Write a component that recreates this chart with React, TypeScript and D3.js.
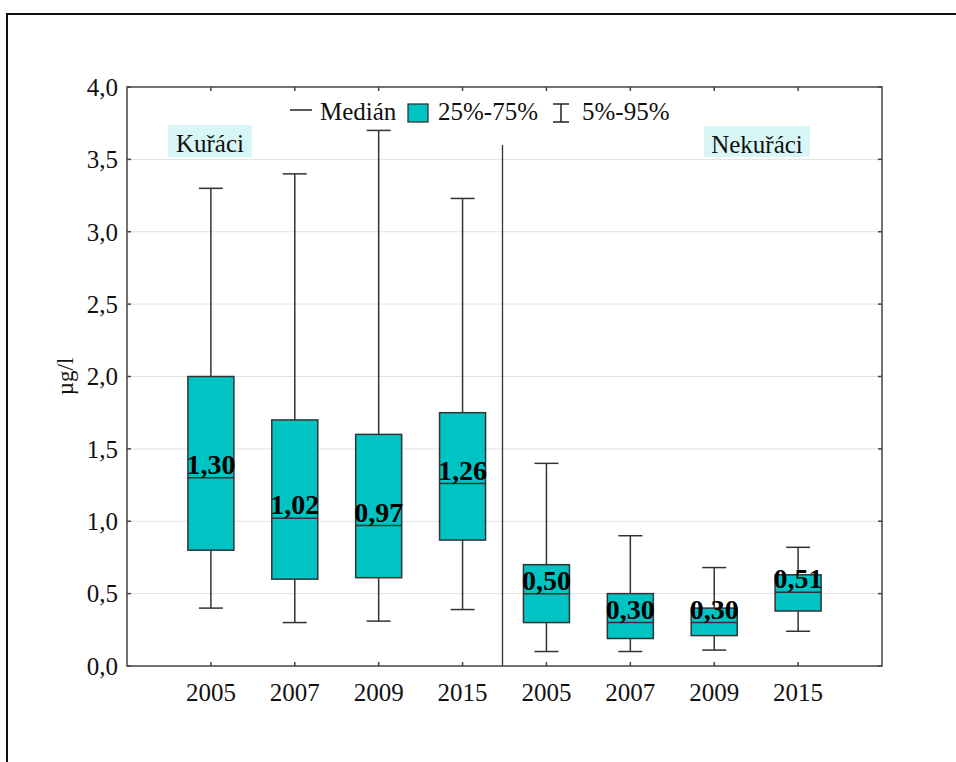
import React from "react";
import * as d3 from "d3";

// Box-plot statistics per group/year (µg/l)
const groupNames = ["Kuřáci", "Nekuřáci"];
const years = ["2005", "2007", "2009", "2015", "2005", "2007", "2009", "2015"];
const p5 = [0.4, 0.3, 0.31, 0.39, 0.1, 0.1, 0.11, 0.24];
const q1 = [0.8, 0.6, 0.61, 0.87, 0.3, 0.19, 0.21, 0.38];
const medians = [1.3, 1.02, 0.97, 1.26, 0.5, 0.3, 0.3, 0.51];
const q3 = [2.0, 1.7, 1.6, 1.75, 0.7, 0.5, 0.4, 0.63];
const p95 = [3.3, 3.4, 3.7, 3.23, 1.4, 0.9, 0.68, 0.82];
const yTicks = [0, 0.5, 1, 1.5, 2, 2.5, 3, 3.5, 4];

const W = 956;
const H = 762;
const plot = { left: 127, right: 882, top: 87, bottom: 666 };
const FONT = "'Liberation Serif', 'Times New Roman', serif";
const BOX_FILL = "#00c4c4";
const LABEL_BG = "#d9f6f6";
const STROKE = "#333";

const x = d3.scaleLinear().domain([0, years.length + 1]).range([plot.left, plot.right]);
const y = d3.scaleLinear().domain([0, 4]).range([plot.bottom, plot.top]);
const fmt = (v: number) => d3.format(".1f")(v).replace(".", ",");
const fmt2 = (v: number) => d3.format(".2f")(v).replace(".", ",");

export default function App() {
  const boxW = 46;
  const capW = 24;
  return (
    <svg
      width={W}
      height={H}
      style={{ position: "absolute", left: 0, top: 0, background: "#fff" }}
      fontFamily={FONT}
    >
      {/* outer frame */}
      <rect x={7} y={14} width={W + 10} height={H + 10} fill="none" stroke="#111" strokeWidth={2} />

      {/* gridlines */}
      {yTicks.slice(1, -1).map((t) => (
        <line key={"g" + t} x1={plot.left} x2={plot.right} y1={y(t)} y2={y(t)} stroke="#e2e2e2" strokeWidth={1} />
      ))}

      {/* group labels */}
      <rect x={168} y={125} width={84} height={32} fill={LABEL_BG} />
      <text x={210} y={152} fontSize={25} textAnchor="middle" fill="#111">{groupNames[0]}</text>
      <rect x={704} y={126} width={106} height={31} fill={LABEL_BG} />
      <text x={757} y={153} fontSize={25} textAnchor="middle" fill="#111">{groupNames[1]}</text>

      {/* group separator */}
      <line x1={x(4.5) - 2} x2={x(4.5) - 2} y1={145} y2={plot.bottom} stroke={STROKE} strokeWidth={1.3} />

      {/* boxes */}
      {years.map((yr, i) => {
        const cx = x(i + 1);
        return (
          <g key={i}>
            <line x1={cx} x2={cx} y1={y(p95[i])} y2={y(q3[i])} stroke={STROKE} strokeWidth={1.5} />
            <line x1={cx} x2={cx} y1={y(q1[i])} y2={y(p5[i])} stroke={STROKE} strokeWidth={1.5} />
            <line x1={cx - capW / 2} x2={cx + capW / 2} y1={y(p95[i])} y2={y(p95[i])} stroke={STROKE} strokeWidth={1.5} />
            <line x1={cx - capW / 2} x2={cx + capW / 2} y1={y(p5[i])} y2={y(p5[i])} stroke={STROKE} strokeWidth={1.5} />
            <rect
              x={cx - boxW / 2}
              y={y(q3[i])}
              width={boxW}
              height={y(q1[i]) - y(q3[i])}
              fill={BOX_FILL}
              stroke={STROKE}
              strokeWidth={1.5}
            />
            <line x1={cx - boxW / 2} x2={cx + boxW / 2} y1={y(medians[i])} y2={y(medians[i])} stroke={STROKE} strokeWidth={1.5} />
            <text
              x={cx}
              y={y(medians[i]) - 4}
              fontSize={28}
              fontWeight="bold"
              textAnchor="middle"
              fill="#000"
            >
              {fmt2(medians[i])}
            </text>
          </g>
        );
      })}

      {/* plot frame */}
      <rect
        x={plot.left}
        y={plot.top}
        width={plot.right - plot.left}
        height={plot.bottom - plot.top}
        fill="none"
        stroke="#444"
        strokeWidth={1.5}
      />

      {/* y ticks and labels */}
      {yTicks.map((t) => (
        <g key={"y" + t}>
          <line x1={plot.left} x2={plot.left + 4} y1={y(t)} y2={y(t)} stroke="#444" strokeWidth={1.5} />
          <line x1={plot.right - 4} x2={plot.right} y1={y(t)} y2={y(t)} stroke="#444" strokeWidth={1.5} />
          <text x={plot.left - 9} y={y(t)} dy="0.35em" fontSize={25} textAnchor="end" fill="#111">
            {fmt(t)}
          </text>
        </g>
      ))}

      {/* x ticks and labels */}
      {years.map((yr, i) => (
        <g key={"x" + i}>
          <line x1={x(i + 1)} x2={x(i + 1)} y1={plot.bottom} y2={plot.bottom - 4} stroke="#444" strokeWidth={1.5} />
          <line x1={x(i + 1)} x2={x(i + 1)} y1={plot.top} y2={plot.top + 4} stroke="#444" strokeWidth={1.5} />
          <text x={x(i + 1)} y={701} fontSize={25} textAnchor="middle" fill="#111">
            {yr}
          </text>
        </g>
      ))}

      {/* y axis title */}
      <text
        transform={`translate(73, ${y(2)}) rotate(-90)`}
        fontSize={23}
        textAnchor="middle"
        fill="#111"
      >
        µg/l
      </text>

      {/* legend */}
      <g fill="#111" fontSize={25}>
        <line x1={290} x2={312} y1={110} y2={110} stroke="#222" strokeWidth={1.5} />
        <text x={320} y={120}>Medián</text>
        <rect x={408} y={104} width={20} height={18} fill={BOX_FILL} stroke={STROKE} strokeWidth={1.3} />
        <text x={438} y={120}>25%-75%</text>
        <line x1={561} x2={561} y1={104} y2={122} stroke="#222" strokeWidth={1.5} />
        <line x1={553} x2={569} y1={104} y2={104} stroke="#222" strokeWidth={1.5} />
        <line x1={553} x2={569} y1={122} y2={122} stroke="#222" strokeWidth={1.5} />
        <text x={582} y={120}>5%-95%</text>
      </g>
    </svg>
  );
}
